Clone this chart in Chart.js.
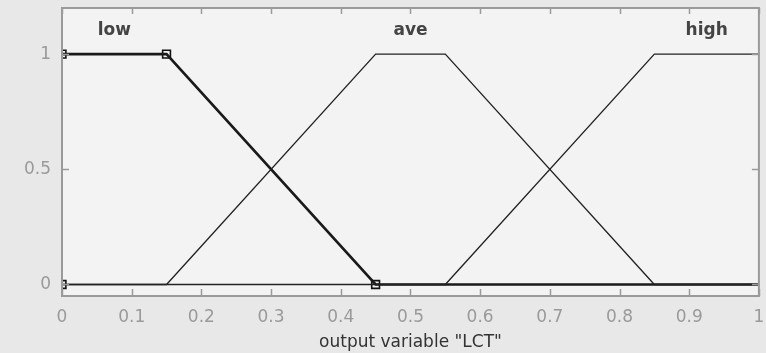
<!DOCTYPE html>
<html>
<head>
<meta charset="utf-8">
<script src="https://cdn.jsdelivr.net/npm/chart.js@4"></script>
<style>
html,body{margin:0;padding:0;background:#e8e8e8;}
#wrap{width:766px;height:353px;}
</style>
</head>
<body>
<div id="wrap"><canvas id="mf" width="766" height="353"></canvas></div>
<script>
// membership functions of output variable "LCT"
const mfNames = ["low", "ave", "high"];
const mfLabelX = [0.075, 0.5, 0.925];
const lowX = [0, 0.15, 0.45, 1];
const lowY = [1, 1, 0, 0];
const aveX = [0, 0.15, 0.45, 0.55, 0.85, 1];
const aveY = [0, 0, 1, 1, 0, 0];
const highX = [0, 0.55, 0.85, 1];
const highY = [0, 0, 1, 1];
// handles on the selected MF
const markX = [0, 0.15, 0.45, 0];
const markY = [1, 1, 0, 0];
const xTicks = [0, 0.1, 0.2, 0.3, 0.4, 0.5, 0.6, 0.7, 0.8, 0.9, 1];
const yTicks = [0, 0.5, 1];

function pts(xs, ys){
return xs.map((x,i)=>({x:x, y:ys[i]}));
}

const axisColor = "#9a9a9a";
const fam = "'DejaVu Sans', Verdana, sans-serif";

const boxPlugin = {
id:"box",
beforeDraw(chart){
const {ctx, chartArea:a} = chart;
ctx.save();
ctx.fillStyle = "#f3f3f3";
ctx.fillRect(a.left, a.top, a.right-a.left, a.bottom-a.top);
ctx.restore();
},
afterDatasetsDraw(chart){
const {ctx, chartArea:a, scales} = chart;
ctx.save();
ctx.strokeStyle = axisColor;
ctx.lineWidth = 2;
ctx.strokeRect(a.left, a.top, a.right-a.left, a.bottom-a.top);
ctx.lineWidth = 1.5;
ctx.beginPath();
xTicks.forEach(t=>{
const px = Math.round(scales.x.getPixelForValue(t))+0.5;
ctx.moveTo(px, a.bottom); ctx.lineTo(px, a.bottom-7);
ctx.moveTo(px, a.top); ctx.lineTo(px, a.top+6);
});
yTicks.forEach(t=>{
const py = Math.round(scales.y.getPixelForValue(t))+0.5;
ctx.moveTo(a.left, py); ctx.lineTo(a.left+7, py);
ctx.moveTo(a.right, py); ctx.lineTo(a.right-7, py);
});
ctx.stroke();
// MF names
ctx.fillStyle = "#444";
ctx.font = "bold 17px " + fam;
ctx.textAlign = "center";
ctx.textBaseline = "middle";
mfNames.forEach((n,i)=>{
ctx.fillText(n, scales.x.getPixelForValue(mfLabelX[i]), scales.y.getPixelForValue(1.1));
});
ctx.restore();
}
};

new Chart(document.getElementById("mf"), {
type:"line",
data:{
datasets:[
{data:pts(aveX, aveY), borderColor:"#222", borderWidth:1.3, pointRadius:0, tension:0},
{data:pts(highX, highY), borderColor:"#222", borderWidth:1.3, pointRadius:0, tension:0},
{data:pts(lowX, lowY), borderColor:"#1a1a1a", borderWidth:2.6, pointRadius:0, tension:0},
{data:pts(markX, markY), showLine:false, pointStyle:"rect", pointRadius:5.5,
 pointBackgroundColor:"rgba(0,0,0,0)", pointBorderColor:"#111", pointBorderWidth:1.6}
]
},
options:{
responsive:false,
animation:false,
layout:{padding:{top:8, right:7, left:0, bottom:0}},
plugins:{legend:{display:false}, tooltip:{enabled:false}},
scales:{
x:{
type:"linear", min:0, max:1,
grid:{display:false},
border:{display:false},
afterBuildTicks(s){ s.ticks = xTicks.map(v=>({value:v})); },
afterFit(s){ s.height = 57; s.paddingLeft = 0; s.paddingRight = 0; },
ticks:{color:axisColor, padding:3, maxRotation:0, callback:v=>String(v), font:{size:17, family:fam}},
title:{display:true, text:'output variable "LCT"', color:"#333", padding:{top:0, bottom:0},
 font:{size:17, family:fam}}
},
y:{
type:"linear", min:-0.05, max:1.2,
grid:{display:false},
border:{display:false},
afterBuildTicks(s){ s.ticks = yTicks.map(v=>({value:v})); },
afterFit(s){ s.width = 62; s.paddingTop = 0; s.paddingBottom = 0; },
ticks:{color:axisColor, padding:3, callback:v=>String(v), font:{size:17, family:fam}}
}
}
},
plugins:[boxPlugin]
});
</script>
</body>
</html>
